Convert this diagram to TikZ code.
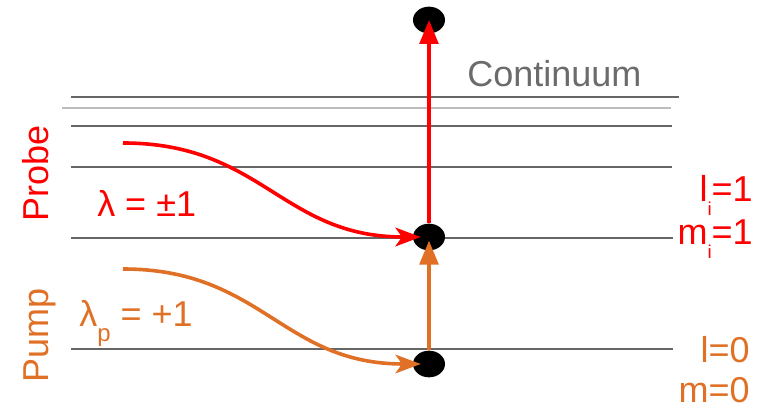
\documentclass[tikz,border=0pt]{standalone}
\usepackage{fontspec}
\setmainfont{Liberation Sans}
\usetikzlibrary{arrows.meta,shapes.geometric}
\definecolor{lvl}{HTML}{666666}
\definecolor{lvllight}{HTML}{BDBDBD}
\definecolor{contgray}{HTML}{6B6B6B}
\definecolor{probered}{HTML}{FF0000}
\definecolor{pumporange}{HTML}{E07026}
\newcommand{\lowsub}[3]{\raisebox{-#2}{\fontsize{#1}{#1}\selectfont #3}}
\begin{document}
\begin{tikzpicture}[x=0.75pt,y=-0.75pt,
  levelline/.style={draw=lvl,line width=1.5pt},
  lightline/.style={draw=lvllight,line width=1.5pt},
  dot/.style={ellipse,fill=black,inner sep=0pt,minimum width=24pt,minimum height=20pt},
  lbl/.style={inner sep=0pt,font=\fontsize{27pt}{31pt}\selectfont},
  curvearrow/.style={line width=2.7pt,-{Stealth[length=19pt,width=14pt,inset=5pt]}},
  vertarrow/.style={line width=2.8pt,-{Triangle[length=18pt,width=14pt]}}
]
\useasboundingbox (0,0) rectangle (768,409);
% energy levels
\draw[levelline] (71,97) -- (679,97);
\draw[lightline] (62,108) -- (671,108);
\draw[levelline] (71,126) -- (672,126);
\draw[levelline] (71,167) -- (672,167);
\draw[levelline] (71,238) -- (673,238);
\draw[levelline] (71,349) -- (673,349);
% states
\node[dot] (top) at (429,20) {};
\node[dot] (mid) at (429,237) {};
\node[dot] (bot) at (429,364) {};
% start points of photon arrows
\coordinate (ps) at (123,143);
\coordinate (us) at (123,269);
% arrows
\draw[curvearrow,probered,shorten >=-6pt] (ps) .. controls (262,143) and (282,237) .. (mid.west);
\draw[curvearrow,pumporange,shorten >=-6pt] (us) .. controls (262,269) and (282,364) .. (bot.west);
\draw[vertarrow,probered] (mid.north) -- (top.center);
\draw[vertarrow,pumporange,shorten >=-7.5pt] (bot.north) -- (mid.south);
% labels
\node[lbl,text=contgray,anchor=base west] (continuum) at (467,87) {Continuum};
\node[lbl,text=probered,rotate=90,anchor=base west] (probe) at (48,222) {Probe};
\node[lbl,text=pumporange,rotate=90,anchor=base west] (pump) at (48,383) {Pump};
\node[lbl,text=probered,anchor=base west] (lam) at (97,217) {λ = ±1};
\node[lbl,text=pumporange,anchor=base west] (lamp) at (79,327) {λ\lowsub{18pt}{11pt}{p} = +1};
\node[lbl,text=probered,anchor=base east] (li) at (753,202) {l\lowsub{14pt}{10pt}{i}=1};
\node[lbl,text=probered,anchor=base east] (mi) at (753,245) {m\lowsub{14pt}{10pt}{i}=1};
\node[lbl,text=pumporange,anchor=base east] (l0) at (750,363) {l=0};
\node[lbl,text=pumporange,anchor=base east] (m0) at (750,403) {m=0};
\end{tikzpicture}
\end{document}
